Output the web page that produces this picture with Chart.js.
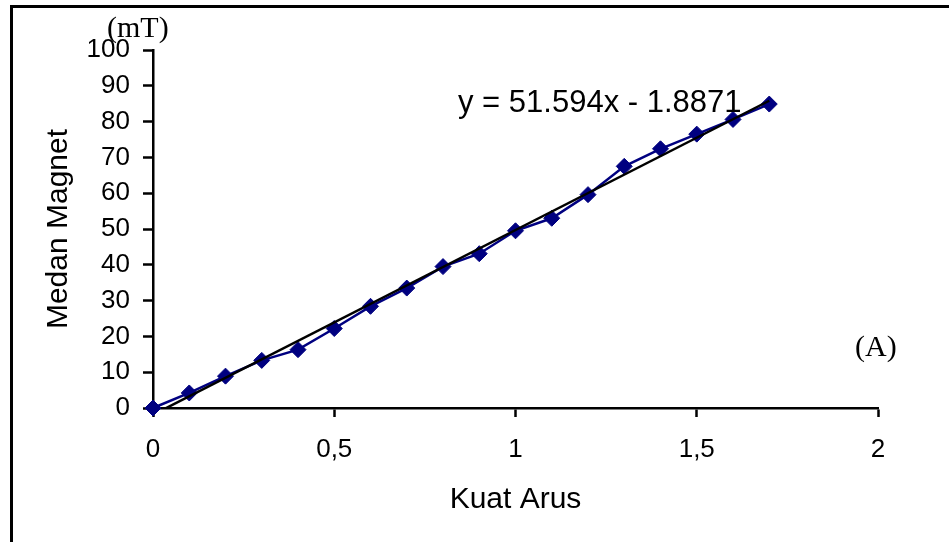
<!DOCTYPE html>
<html>
<head>
<meta charset="utf-8">
<script src="https://cdn.jsdelivr.net/npm/chart.js@4/dist/chart.umd.min.js"></script>
<style>
  html, body { margin: 0; padding: 0; background: #fff; }
  #wrap { position: relative; width: 949px; height: 542px; overflow: hidden; }
  #frame { position: absolute; left: 10px; top: 5px; width: 1000px; height: 600px;
           border-top: 3px solid #000; border-left: 3px solid #000; box-sizing: border-box; }
  #chart { position: absolute; left: 0; top: 0; }
</style>
</head>
<body>
<div id="wrap">
  <div id="frame"></div>
  <canvas id="chart" width="949" height="542"></canvas>
</div>
<script>
// data
const kuatArus = [0, 0.1, 0.2, 0.3, 0.4, 0.5, 0.6, 0.7, 0.8, 0.9, 1.0, 1.1, 1.2, 1.3, 1.4, 1.5, 1.6, 1.7];
const medanMagnet = [0, 4.2, 8.9, 13.3, 16.3, 22.2, 28.4, 33.5, 39.5, 43.1, 49.5, 53, 59.6, 67.5, 72.4, 76.5, 80.6, 84.9];
const xTickLabels = ['0', '0,5', '1', '1,5', '2'];
const yTickLabels = ['0', '10', '20', '30', '40', '50', '60', '70', '80', '90', '100'];
const slope = 51.594;
const intercept = -1.8871;
const equationText = 'y = 51.594x - 1.8871';

const FONT = "'Liberation Sans', Arial, sans-serif";
const SERIF = "'Liberation Serif', 'Times New Roman', serif";

// linear trendline over the range of the data
const xFirst = kuatArus[0];
const xLast = kuatArus[kuatArus.length - 1];
const trendData = [
  { x: xFirst, y: slope * xFirst + intercept },
  { x: xLast, y: slope * xLast + intercept }
];

const labelsPlugin = {
  id: 'extraLabels',
  afterDraw(chart) {
    const ctx = chart.ctx;
    ctx.save();
    ctx.fillStyle = '#000';
    ctx.textBaseline = 'alphabetic';
    ctx.textAlign = 'left';
    ctx.font = '31px ' + FONT;
    ctx.fillText(equationText, 458, 112);
    ctx.font = '30px ' + SERIF;
    ctx.fillText('(mT)', 107, 37);
    ctx.fillText('(A)', 855, 356);
    ctx.restore();
  }
};

const ctx = document.getElementById('chart').getContext('2d');
new Chart(ctx, {
  type: 'scatter',
  data: {
    datasets: [
      {
        label: 'Medan Magnet',
        data: kuatArus.map((x, i) => ({ x: x, y: medanMagnet[i] })),
        showLine: true,
        borderColor: '#000080',
        backgroundColor: '#000080',
        borderWidth: 2.5,
        pointStyle: 'rectRot',
        pointRadius: 8,
        pointBorderWidth: 1,
        clip: false,
        order: 1
      },
      {
        label: 'Linear',
        data: trendData,
        showLine: true,
        borderColor: '#000',
        borderWidth: 2.5,
        pointRadius: 0,
        order: 0
      }
    ]
  },
  options: {
    responsive: false,
    animation: false,
    layout: { padding: { top: 50, right: 71, left: 0, bottom: 0 } },
    plugins: {
      legend: { display: false },
      tooltip: { enabled: false }
    },
    scales: {
      x: {
        type: 'linear',
        min: 0,
        max: 2,
        ticks: {
          stepSize: 0.5,
          color: '#000',
          font: { family: FONT, size: 26 },
          padding: 17,
          maxRotation: 0,
          callback: (v, i) => xTickLabels[i]
        },
        grid: { drawOnChartArea: false, tickLength: 9, tickColor: '#000', tickWidth: 2.5 },
        border: { color: '#000', width: 2.5 },
        title: {
          display: true,
          text: 'Kuat Arus',
          color: '#000',
          font: { family: FONT, size: 30 },
          padding: { top: 0, bottom: 24 }
        },
        afterFit: (scale) => { scale.height = 134; }
      },
      y: {
        type: 'linear',
        min: 0,
        max: 100,
        ticks: {
          stepSize: 10,
          color: '#000',
          font: { family: FONT, size: 26 },
          padding: 13,
          callback: (v, i) => yTickLabels[i]
        },
        grid: { drawOnChartArea: false, tickLength: 10, tickColor: '#000', tickWidth: 2.5 },
        border: { color: '#000', width: 2.5 },
        title: {
          display: true,
          text: 'Medan Magnet',
          color: '#000',
          font: { family: FONT, size: 30 },
          padding: { top: 41, bottom: 0 }
        },
        afterFit: (scale) => { scale.width = 153; }
      }
    }
  },
  plugins: [labelsPlugin]
});
</script>
</body>
</html>
